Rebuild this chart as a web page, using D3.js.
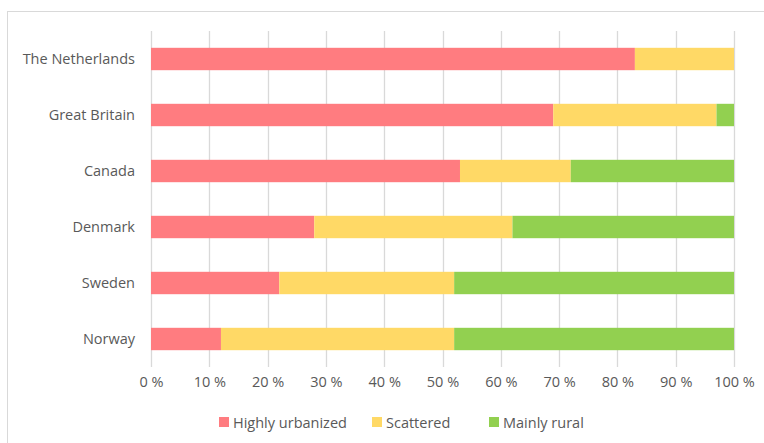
<!DOCTYPE html>
<html>
<head>
<meta charset="utf-8">
<script src="https://cdn.jsdelivr.net/npm/d3@7"></script>
<style>
  body { margin: 0; background: #fff; }
  text { font-family: "Open Sans", sans-serif; fill: #595959; }
</style>
</head>
<body>
<div id="chart"></div>
<script>
// categories top to bottom
var countries = ["The Netherlands", "Great Britain", "Canada", "Denmark", "Sweden", "Norway"];
var seriesNames = ["Highly urbanized", "Scattered", "Mainly rural"];
var urbanized = [83, 69, 53, 28, 22, 12];
var scattered = [17, 28, 19, 34, 30, 40];
var rural = [0, 3, 28, 38, 48, 48];
var xTicks = [0, 10, 20, 30, 40, 50, 60, 70, 80, 90, 100];
var colors = ["#FF7C80", "#FFD966", "#92D050"];

var svgWidth = 764, svgHeight = 443;
var margin = {top: 31, right: 30, bottom: 76, left: 151};
var chartWidth = 734 - margin.left;
var chartHeight = 367 - margin.top;
var fontSize = "14.5px";

var svg = d3.select("#chart").append("svg")
  .attr("width", svgWidth)
  .attr("height", svgHeight);

// outer frame
svg.append("rect")
  .attr("x", 7.5).attr("y", 11.5)
  .attr("width", 800).attr("height", 500)
  .attr("fill", "none")
  .attr("stroke", "#D9D9D9");

var chartGroup = svg.append("g")
  .attr("transform", `translate(${margin.left}, ${margin.top})`);

var x = d3.scaleLinear().domain([0, 100]).range([0, chartWidth]);
var y = d3.scaleBand().domain(countries).range([0, chartHeight]).paddingInner(0.6).paddingOuter(0.3);

// gridlines
chartGroup.selectAll(".grid")
  .data(xTicks)
  .enter().append("line")
  .attr("x1", d => Math.round(x(d)) + 0.5)
  .attr("x2", d => Math.round(x(d)) + 0.5)
  .attr("y1", 0)
  .attr("y2", chartHeight)
  .attr("stroke", "#D9D9D9")
  .attr("stroke-width", 1.3);

// stack data
var rows = countries.map(function(c, i) {
  return {country: c, s0: urbanized[i], s1: scattered[i], s2: rural[i]};
});
var stack = d3.stack().keys(["s0", "s1", "s2"]);
var layers = stack(rows);

chartGroup.selectAll(".layer")
  .data(layers)
  .enter().append("g")
  .attr("fill", (d, i) => colors[i])
  .selectAll("rect")
  .data(d => d)
  .enter().append("rect")
  .attr("x", d => x(d[0]))
  .attr("width", d => x(d[1]) - x(d[0]))
  .attr("y", d => y(d.data.country))
  .attr("height", y.bandwidth());

// x axis labels
var xAxis = d3.axisBottom(x)
  .tickValues(xTicks)
  .tickSize(0)
  .tickPadding(10)
  .tickFormat(d => d + " %");
var xg = chartGroup.append("g")
  .attr("transform", `translate(0, ${chartHeight})`)
  .call(xAxis);
xg.select(".domain").remove();
xg.selectAll("text").attr("font-size", fontSize).attr("fill", "#595959").style("font-family", "'Open Sans', sans-serif");

// y axis labels
var yAxis = d3.axisLeft(y).tickSize(0).tickPadding(16);
var yg = chartGroup.append("g").call(yAxis);
yg.select(".domain").remove();
yg.selectAll("text").attr("font-size", fontSize).attr("fill", "#595959").style("font-family", "'Open Sans', sans-serif");

// legend
var legendX = [219, 372, 489];
var legend = svg.append("g").attr("transform", "translate(0, 417)");
seriesNames.forEach(function(name, i) {
  legend.append("rect")
    .attr("x", legendX[i]).attr("y", 0)
    .attr("width", 10).attr("height", 10)
    .attr("fill", colors[i]);
  legend.append("text")
    .attr("x", legendX[i] + 14).attr("y", 10.5)
    .attr("font-size", fontSize)
    .text(name);
});
</script>
</body>
</html>
